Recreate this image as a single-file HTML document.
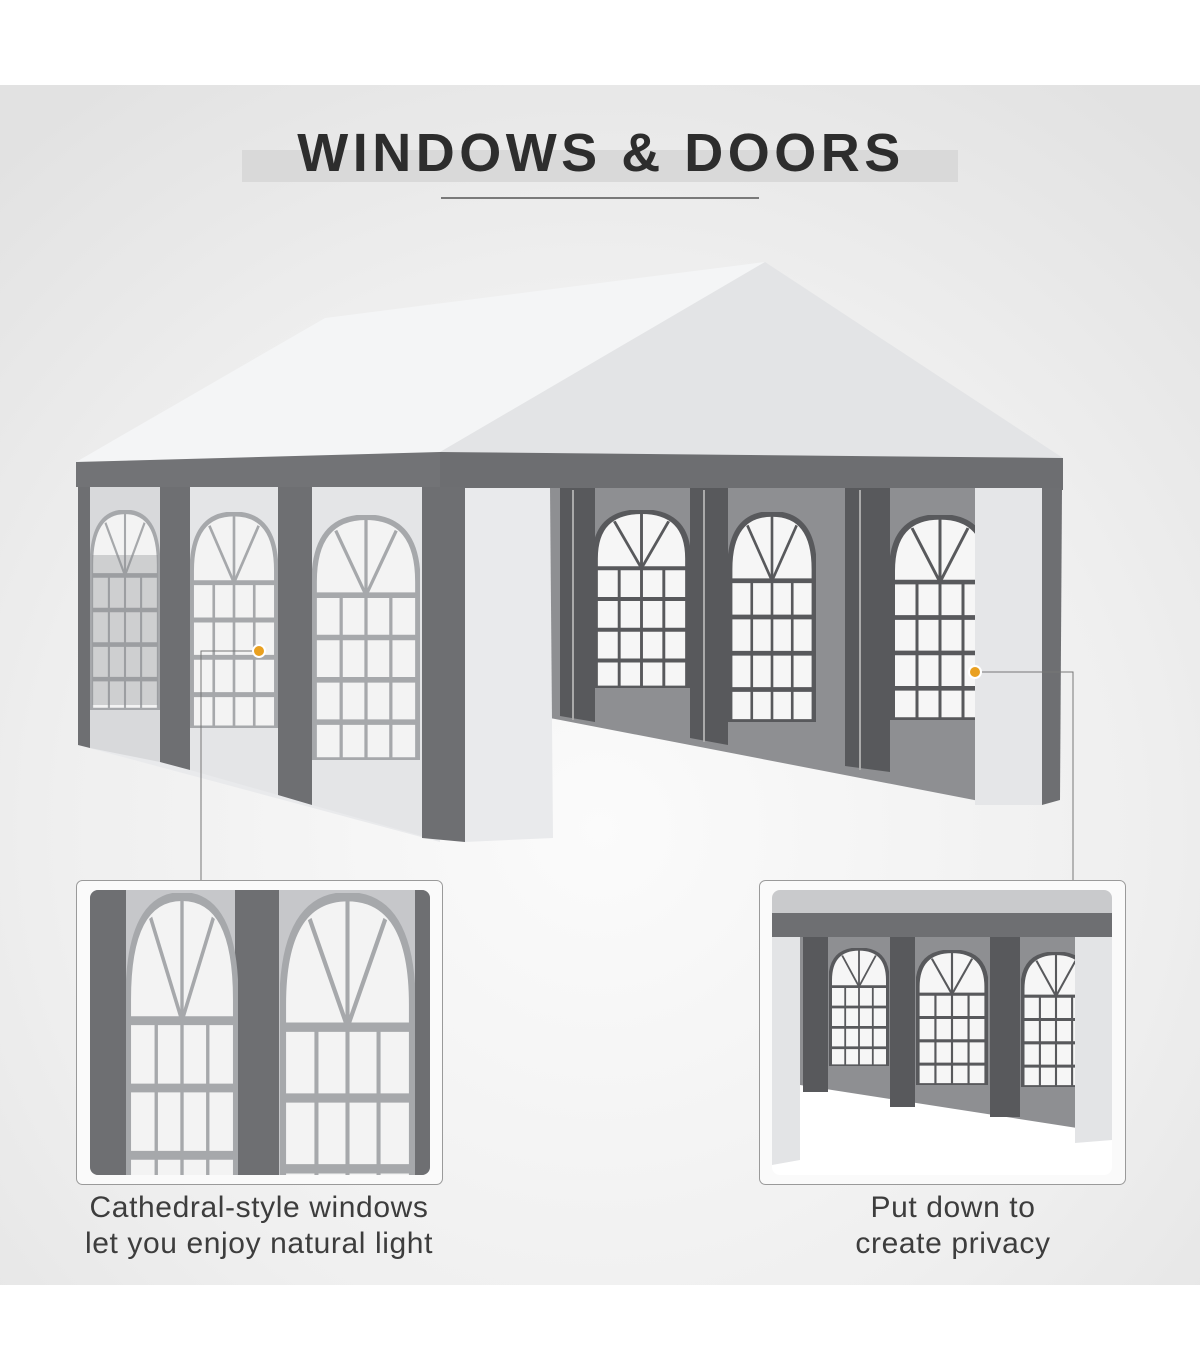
<!DOCTYPE html>
<html><head><meta charset="utf-8"><style>
html,body{margin:0;padding:0;background:#fff;}
body{width:1200px;height:1372px;position:relative;overflow:hidden;font-family:"Liberation Sans",sans-serif;}
.cap{position:absolute;font-size:30px;color:#3d3d3d;text-align:center;line-height:36px;letter-spacing:0.6px;}
</style></head><body>
<svg width="1200" height="1372" viewBox="0 0 1200 1372" style="position:absolute;left:0;top:0">
<defs>
<radialGradient id="bg" cx="0.5" cy="0.62" r="0.75">
<stop offset="0" stop-color="#fbfbfb"/><stop offset="0.6" stop-color="#efefef"/><stop offset="1" stop-color="#e2e2e2"/>
</radialGradient>
<symbol id="ws" viewBox="0 0 100 220" preserveAspectRatio="none">
<path d="M2,220 L2,60 Q2,2 50,2 Q98,2 98,60 L98,220 Z" fill="#f3f3f3" stroke="#a6a8ab" stroke-width="5"/>
<g stroke="#a6a8ab" stroke-width="5" fill="none">
<line x1="2" y1="72" x2="98" y2="72"/><line x1="2" y1="110" x2="98" y2="110"/><line x1="2" y1="148" x2="98" y2="148"/><line x1="2" y1="186" x2="98" y2="186"/>
<line x1="50" y1="72" x2="50" y2="2" stroke-width="3"/><line x1="50" y1="72" x2="22" y2="14" stroke-width="3"/><line x1="50" y1="72" x2="78" y2="14" stroke-width="3"/>
<line x1="27" y1="72" x2="27" y2="220" stroke-width="3"/><line x1="50" y1="72" x2="50" y2="220" stroke-width="3"/><line x1="73" y1="72" x2="73" y2="220" stroke-width="3"/>
</g></symbol>
<symbol id="wd" viewBox="0 0 100 220" preserveAspectRatio="none">
<path d="M2,220 L2,60 Q2,2 50,2 Q98,2 98,60 L98,220 Z" fill="#f6f6f6" stroke="#58595c" stroke-width="6"/>
<g stroke="#58595c" stroke-width="5" fill="none">
<line x1="2" y1="72" x2="98" y2="72"/><line x1="2" y1="110" x2="98" y2="110"/><line x1="2" y1="148" x2="98" y2="148"/><line x1="2" y1="186" x2="98" y2="186"/>
<line x1="50" y1="72" x2="50" y2="2" stroke-width="3"/><line x1="50" y1="72" x2="22" y2="14" stroke-width="3"/><line x1="50" y1="72" x2="78" y2="14" stroke-width="3"/>
<line x1="27" y1="72" x2="27" y2="220" stroke-width="3"/><line x1="50" y1="72" x2="50" y2="220" stroke-width="3"/><line x1="73" y1="72" x2="73" y2="220" stroke-width="3"/>
</g></symbol>
<clipPath id="cl"><rect x="90" y="890" width="340" height="285" rx="8"/></clipPath>
<clipPath id="cr"><rect x="772" y="890" width="340" height="285" rx="8"/></clipPath>
</defs>
<rect x="0" y="85" width="1200" height="1200" fill="url(#bg)"/>
<rect x="242" y="150" width="716" height="32" fill="#d9d9d9"/>
<text x="601" y="171" text-anchor="middle" font-family="Liberation Sans" font-weight="bold" font-size="54" fill="#2d2d2d" letter-spacing="4.5">WINDOWS &amp; DOORS</text>
<line x1="441" y1="198" x2="759" y2="198" stroke="#555" stroke-width="1.5"/>
<polygon points="76,462 325,318 765,262 440,452" fill="#f4f5f6"/>
<polygon points="440,452 765,262 1063,458" fill="#e3e4e6"/>
<polygon points="76,462 440,452 440,490 76,487" fill="#727376"/>
<polygon points="440,452 1063,458 1063,490 440,490" fill="#6d6e71"/>
<polygon points="78,487 440,488 440,842 78,745" fill="#e9eaec"/>
<polygon points="160,487 190,487 190,770 160,762" fill="#6e6f72"/>
<polygon points="278,487 312,487 312,805 278,795" fill="#6e6f72"/>
<polygon points="78,487 90,487 90,748 78,745" fill="#6e6f72"/>
<polygon points="422,487 465,487 465,842 422,838" fill="#6e6f72"/>
<polygon points="90,487 160,487 160,762 90,748" fill="#d8d9db"/>
<polygon points="190,487 278,487 278,795 190,770" fill="#e4e5e7"/>
<polygon points="312,487 422,487 422,836 312,805" fill="#e4e5e7"/>
<use href="#ws" x="90" y="510" width="70" height="200"/>
<rect x="92" y="555" width="66" height="150" fill="#8a8b8e" opacity="0.35"/>
<use href="#ws" x="190" y="512" width="88" height="216"/>
<use href="#ws" x="312" y="515" width="108" height="245"/>
<polygon points="550,488 1000,488 1000,805 550,718" fill="#8e8f92"/>
<polygon points="560,488 595,488 595,722 560,716" fill="#58595c"/>
<polygon points="690,488 728,488 728,745 690,738" fill="#58595c"/>
<polygon points="845,488 890,488 890,772 845,766" fill="#58595c"/>
<use href="#wd" x="593" y="510" width="97" height="178"/>
<use href="#wd" x="728" y="512" width="88" height="210"/>
<use href="#wd" x="890" y="515" width="100" height="205"/>
<line x1="573" y1="490" x2="573" y2="720" stroke="#aaa" stroke-width="2"/>
<line x1="704" y1="490" x2="704" y2="742" stroke="#aaa" stroke-width="2"/>
<line x1="860" y1="490" x2="860" y2="770" stroke="#aaa" stroke-width="2"/>
<polygon points="465,488 550,488 553,838 465,842" fill="#e9eaec"/>
<polygon points="975,488 1042,488 1042,805 975,805" fill="#e5e6e8"/>
<polygon points="1042,488 1062,488 1060,800 1042,805" fill="#6e6f72"/>
<polyline points="259,651 201,651 201,880" fill="none" stroke="#777" stroke-width="1"/>
<circle cx="259" cy="651" r="6" fill="#e9a020" stroke="#fff" stroke-width="2"/>
<polyline points="975,672 1073,672 1073,880" fill="none" stroke="#777" stroke-width="1"/>
<circle cx="975" cy="672" r="6" fill="#e9a020" stroke="#fff" stroke-width="2"/>
<rect x="76.5" y="880.5" width="366" height="304" rx="6" fill="#fafafa" stroke="#9a9a9a"/>
<g clip-path="url(#cl)">
<rect x="90" y="890" width="340" height="285" fill="#c6c7ca"/>
<rect x="90" y="890" width="36" height="285" fill="#6e6f72"/>
<rect x="235" y="890" width="44" height="285" fill="#6e6f72"/>
<rect x="415" y="890" width="20" height="285" fill="#6e6f72"/>
<use href="#ws" x="126" y="893" width="112" height="390"/>
<use href="#ws" x="280" y="893" width="135" height="410"/>
</g>
<rect x="759.5" y="880.5" width="366" height="304" rx="6" fill="#fafafa" stroke="#9a9a9a"/>
<g clip-path="url(#cr)">
<rect x="772" y="890" width="340" height="285" fill="#fff"/>
<rect x="772" y="890" width="340" height="25" fill="#c9cacc"/>
<rect x="772" y="913" width="340" height="24" fill="#6e6f72"/>
<polygon points="800,937 1090,937 1090,1130 800,1085" fill="#8e8f92"/>
<rect x="803" y="937" width="25" height="155" fill="#58595c"/>
<rect x="890" y="937" width="25" height="170" fill="#58595c"/>
<rect x="990" y="937" width="30" height="180" fill="#58595c"/>
<use href="#wd" x="829" y="948" width="60" height="118"/>
<use href="#wd" x="916" y="950" width="72" height="135"/>
<use href="#wd" x="1021" y="952" width="70" height="135"/>
<polygon points="772,937 800,937 800,1160 772,1165" fill="#e3e4e6"/>
<polygon points="1075,937 1112,937 1112,1140 1075,1143" fill="#e3e4e6"/>
</g>
<rect x="0" y="1285" width="1200" height="87" fill="#fff"/>
</svg>
<div class="cap" style="left:56px;top:1190px;width:406px">Cathedral-style windows<br>let you enjoy natural light</div>
<div class="cap" style="left:753px;top:1190px;width:400px">Put down to<br>create privacy</div>
</body></html>
